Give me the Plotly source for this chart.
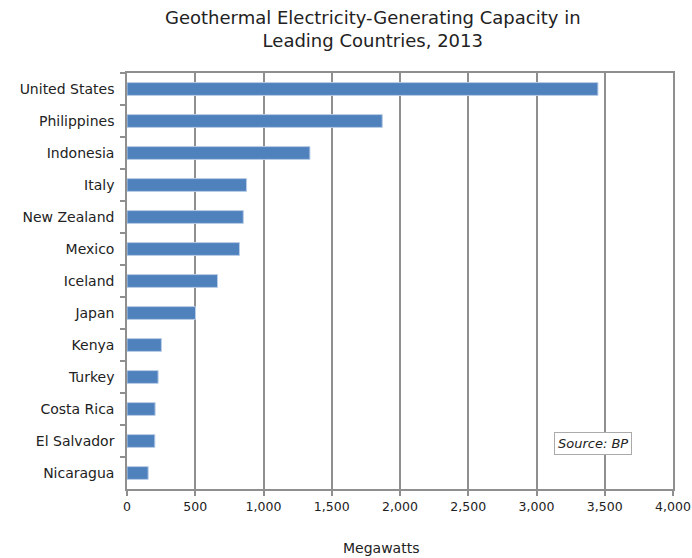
import plotly.graph_objects as go

countries = ["United States", "Philippines", "Indonesia", "Italy", "New Zealand", "Mexico",
             "Iceland", "Japan", "Kenya", "Turkey", "Costa Rica", "El Salvador", "Nicaragua"]
capacity_mw = [3450, 1870, 1340, 876, 852, 824, 663, 502, 252, 228, 206, 204, 155]
x_ticks = [0, 500, 1000, 1500, 2000, 2500, 3000, 3500, 4000]

font_family = "DejaVu Sans, Verdana, sans-serif"
text_color = "#222222"
grid_color = "#8f8f8f"

L, R, T, B = 127, 673, 73, 489
W, H = 692, 558
pw, ph = R - L, B - T

fig = go.Figure()
fig.add_trace(go.Bar(
    x=capacity_mw,
    y=countries,
    orientation="h",
    width=0.4,
    marker=dict(color="#4F81BD", line=dict(color="#b9cde8", width=1)),
    hoverinfo="x+y",
))

fig.update_layout(
    width=W, height=H,
    margin=dict(l=L, r=W - R, t=T, b=H - B, autoexpand=False),
    paper_bgcolor="white",
    plot_bgcolor="white",
    showlegend=False,
    font=dict(family=font_family, size=13, color=text_color),
    xaxis=dict(
        range=[0, 4000],
        tickvals=x_ticks,
        tickformat=",",
        showgrid=True, gridcolor=grid_color, gridwidth=1.5,
        showline=True, linecolor=grid_color, linewidth=1.5,
        mirror=True,
        ticks="outside", ticklen=5, tickcolor=grid_color, tickwidth=1.5,
        tickfont=dict(size=12.5, color=text_color),
        zeroline=False,
        automargin=False,
        fixedrange=True,
    ),
    yaxis=dict(
        categoryorder="array",
        categoryarray=countries,
        autorange="reversed",
        showline=True, linecolor=grid_color, linewidth=1.5,
        mirror=True,
        ticks="outside", tickson="boundaries", ticklen=5, tickcolor=grid_color, tickwidth=1.5,
        tickfont=dict(size=14, color=text_color),
        ticklabelstandoff=8,
        showgrid=False,
        automargin=False,
        fixedrange=True,
    ),
    annotations=[
        dict(
            text="Geothermal Electricity-Generating Capacity in<br>Leading Countries, 2013",
            xref="paper", yref="paper",
            x=(373 - L) / pw, y=(B - 5) / ph,
            xanchor="center", yanchor="top",
            showarrow=False,
            font=dict(family=font_family, size=18, color=text_color),
        ),
        dict(
            text="Megawatts",
            xref="paper", yref="paper",
            x=(381 - L) / pw, y=(B - 548) / ph,
            xanchor="center", yanchor="middle",
            showarrow=False,
            font=dict(family=font_family, size=14, color=text_color),
        ),
        dict(
            text="<i>Source: BP</i>",
            xref="paper", yref="paper",
            x=(593 - L) / pw, y=(B - 443.5) / ph,
            xanchor="center", yanchor="middle",
            showarrow=False,
            bgcolor="white",
            bordercolor="#aaaaaa", borderwidth=1, borderpad=3,
            font=dict(size=13, color=text_color, family=font_family),
        ),
    ],
)

fig.write_html("out.html")
